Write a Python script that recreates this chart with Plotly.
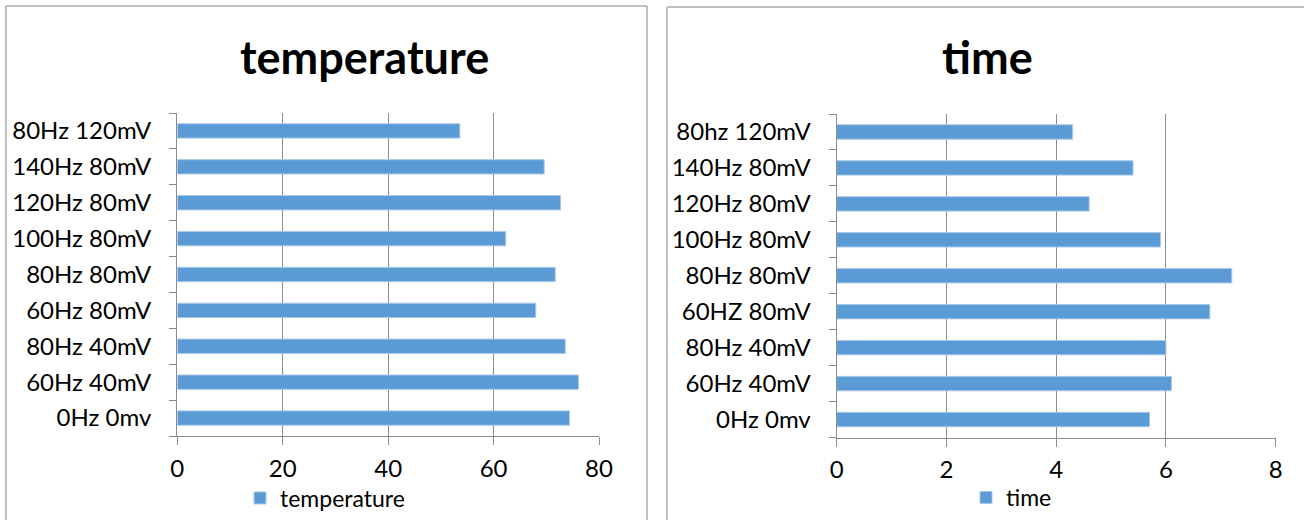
import plotly.graph_objects as go

# Conditions, listed bottom to top as they appear on each chart
temp_categories = ["0Hz 0mv", "60Hz 40mV", "80Hz 40mV", "60Hz 80mV", "80Hz 80mV",
                   "100Hz 80mV", "120Hz 80mV", "140Hz 80mV", "80Hz 120mV"]
temperature = [74.4, 76.1, 73.6, 68.0, 71.7, 62.3, 72.7, 69.6, 53.6]

time_categories = ["0Hz 0mv", "60Hz 40mV", "80Hz 40mV", "60HZ 80mV", "80Hz 80mV",
                   "100Hz 80mV", "120Hz 80mV", "140Hz 80mV", "80hz 120mV"]
time_values = [5.7, 6.1, 6.0, 6.8, 7.2, 5.9, 4.6, 5.4, 4.3]

temp_ticks = [0, 20, 40, 60, 80]
time_ticks = [0, 2, 4, 6, 8]

W, H = 1304, 520
BAR = "#5B9BD5"
GRID = "#8C8C8C"
FRAME = "#ABABAB"
FONT = "Lato"
TXT = 24


def fx(p):
    return p / W


def fy(p):
    return 1 - p / H


fig = go.Figure()
fig.add_trace(go.Bar(
    x=temperature, y=temp_categories, orientation="h", name="temperature",
    marker=dict(color=BAR, line=dict(color="#A8C8E8", width=1)),
    xaxis="x", yaxis="y", legend="legend", showlegend=True,
))
fig.add_trace(go.Bar(
    x=time_values, y=time_categories, orientation="h", name="time",
    marker=dict(color=BAR, line=dict(color="#A8C8E8", width=1)),
    xaxis="x2", yaxis="y2", legend="legend2", showlegend=True,
))

xcommon = dict(
    showgrid=True, gridcolor=GRID, gridwidth=1.3,
    showline=True, linecolor=GRID, linewidth=1.3,
    ticks="outside", ticklen=8, tickcolor=GRID, tickwidth=1.3,
    zeroline=False, fixedrange=True,
    tickfont=dict(family=FONT, size=TXT, color="#000000"),
    ticklabelstandoff=3,
)
ycommon = dict(
    type="category", showgrid=False,
    showline=True, linecolor=GRID, linewidth=1.3,
    ticks="outside", ticklen=7, tickcolor=GRID, tickwidth=1.3,
    tickson="boundaries", range=[-0.5, 8.5], fixedrange=True,
    tickfont=dict(family=FONT, size=TXT, color="#000000"),
    ticklabelstandoff=20,
)

# Legends sit bottom-anchored inside the page so they never push the plot areas
legend_common = dict(
    orientation="h", xanchor="left", yanchor="bottom",
    font=dict(family=FONT, size=23, color="#000000"),
    bgcolor="rgba(0,0,0,0)", itemclick=False, itemdoubleclick=False,
)

fig.update_layout(
    width=W, height=H,
    margin=dict(l=0, r=0, t=0, b=0),
    paper_bgcolor="white", plot_bgcolor="white",
    showlegend=True,
    bargap=0.6,
    font=dict(family=FONT, color="#000000"),
    xaxis=dict(xcommon, domain=[fx(177.3), fx(599)], range=[0, 80],
               tickvals=temp_ticks, anchor="y", automargin=False),
    yaxis=dict(ycommon, domain=[fy(436), fy(113)], anchor="x", automargin=False),
    xaxis2=dict(xcommon, domain=[fx(836.7), fx(1275.7)], range=[0, 8],
                tickvals=time_ticks, anchor="y2", automargin=False),
    yaxis2=dict(ycommon, domain=[fy(437.5), fy(114)], anchor="x2", automargin=False),
    legend=dict(legend_common, x=fx(240), y=fy(519.5)),
    legend2=dict(legend_common, x=fx(966), y=fy(519)),
    annotations=[
        dict(text="<b>temperature</b>", x=fx(364), y=fy(57), xref="paper", yref="paper",
             xanchor="center", yanchor="middle", showarrow=False,
             font=dict(family=FONT, size=45, color="#000000")),
        dict(text="<b>time</b>", x=fx(987), y=fy(57), xref="paper", yref="paper",
             xanchor="center", yanchor="middle", showarrow=False,
             font=dict(family=FONT, size=45, color="#000000")),
    ],
    shapes=[
        # frame around the left chart (bottom edge runs past the page)
        dict(type="line", xref="paper", yref="paper", x0=fx(6), x1=fx(6), y0=fy(6), y1=fy(530),
             line=dict(color=FRAME, width=1.5)),
        dict(type="line", xref="paper", yref="paper", x0=fx(6), x1=fx(647), y0=fy(6), y1=fy(6),
             line=dict(color=FRAME, width=1.5)),
        dict(type="line", xref="paper", yref="paper", x0=fx(647), x1=fx(647), y0=fy(6), y1=fy(530),
             line=dict(color=FRAME, width=1.5)),
        # frame around the right chart
        dict(type="line", xref="paper", yref="paper", x0=fx(667), x1=fx(667), y0=fy(7), y1=fy(530),
             line=dict(color=FRAME, width=1.5)),
        dict(type="line", xref="paper", yref="paper", x0=fx(667), x1=fx(1310), y0=fy(7), y1=fy(7),
             line=dict(color=FRAME, width=1.5)),
    ],
)

fig.write_html("out.html")
